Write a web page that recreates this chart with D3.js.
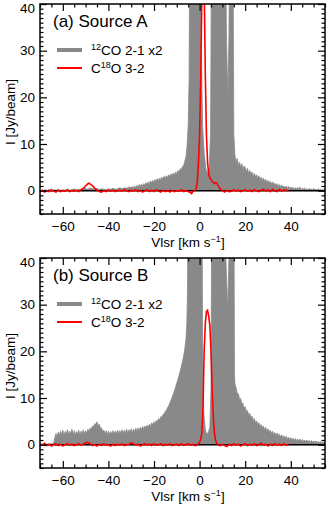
<!DOCTYPE html>
<html>
<head>
<meta charset="utf-8">
<script src="https://cdn.jsdelivr.net/npm/d3@7"></script>
<style>
  body { margin: 0; background: #fff; }
  text { font-family: "Liberation Sans", Arial, Helvetica, sans-serif; fill: #000; }
</style>
</head>
<body>
<div id="chart"></div>
<script>
// [velocity km/s, intensity Jy/beam]
const coA = [[-70,0.1],[-69,-0.2],[-68,0.2],[-67,0],[-66,0.3],[-65,-0.1],[-64,0.2],[-63,0.1],[-62,0.3],[-61,0],[-60,0.2],[-59,0.1],[-58,0.3],[-57,0.1],[-56,0.2],[-55,0.4],[-54,0.1],[-53,0.3],[-52,0.2],[-51,0.4],[-50,0.5],[-49,0.3],[-48,0.6],[-47,0.4],[-46,0.3],[-45,0.5],[-44,0.2],[-43,0.4],[-42,0.3],[-41,0.2],[-40,0.4],[-39,0.3],[-38,0.5],[-37,0.3],[-36,0.4],[-35,0.6],[-34,0.4],[-33,0.6],[-32,0.5],[-31,0.8],
  [-30,0.6],[-29.5,0.9],[-29,0.5],[-28.5,1.0],[-28,0.7],[-27.5,1.1],[-27,0.8],[-26.5,1.3],[-26,0.9],[-25.5,1.4],[-25,1.0],[-24.5,1.5],[-24,1.2],[-23.5,1.7],[-23,1.3],[-22.5,1.9],[-22,1.5],[-21.5,2.1],[-21,1.7],[-20.5,2.2],[-20,1.8],[-19.5,2.4],[-19,2.0],[-18.5,2.6],[-18,2.1],[-17.5,2.7],[-17,2.3],[-16.5,2.9],[-16,2.5],[-15.5,3.1],[-15,2.7],[-14.5,3.2],[-14,2.8],[-13.5,3.4],[-13,3.0],[-12.5,3.6],[-12,3.2],[-11.5,3.8],[-11,3.4],[-10.5,4.0],[-10,3.7],[-9.5,4.3],[-9,4.0],[-8.5,4.7],[-8,4.5],[-7.5,5.2],[-7,5.4],[-6.5,6.3],[-6,7.2],[-5.5,9.5],[-5,14],[-4.6,24],[-4.3,60],
  [0.3,60],[0.8,30],[1.3,14],[2,8],[2.8,4.6],[3.5,3.6],[4.2,5],[4.8,12],[5.3,60],[11.2,60],[11.8,32],[12.4,20],[12.9,34],[13.2,60],[14.6,60],[15,12],
  [15.5,7.6],[16,6.2],[16.5,6.9],[17,5.4],[17.5,6.1],[18,5.0],[18.5,5.8],[19,4.6],[19.5,5.3],[20,4.9],[20.5,4.1],[21,4.8],[21.5,3.7],[22,4.3],[22.5,3.6],[23,4.0],[23.5,3.1],[24,3.7],[24.5,3.0],[25,3.4],[25.5,2.7],[26,3.2],[26.5,2.5],[27,2.9],[27.5,2.2],[28,2.7],[28.5,2.0],[29,2.4],[29.5,1.8],[30,2.2],[30.5,1.6],[31,2.0],[31.5,1.4],[32,1.9],[32.5,1.3],[33,1.6],[33.5,1.1],[34,1.5],[34.5,0.9],[35,1.3],[35.5,0.8],[36,1.2],[36.5,0.7],[37,1.0],[37.5,0.6],[38,1.0],[38.5,0.5],[39,0.9],[39.5,0.4],[40,0.8],[40.5,0.5],[41,0.7],[41.5,0.3],[42,0.6],[42.5,0.4],[43,0.7],[43.5,0.3],[44,0.8],[44.5,0.2],[45,0.5],[45.5,0.3],[46,0.6],[46.5,0.2],[47,0.4],[47.5,0.1],[48,0.5],[48.5,0.2],[49,0.4],[49.5,0.1],[50,0.5],[50.5,0.2],[51,0.3],[51.5,0.1],[52,0.4],[52.5,0.2],[53,0.3],[53.5,0.1],[54,0.3],[54.5,0.1],[55,0.2]];

const c18oA = [[-70,-0.2],[-69,0.1],[-68,-0.3],[-67,0],[-66,-0.2],[-65,0.2],[-64,-0.1],[-63,-0.3],[-62,0.1],[-61,-0.2],[-60,0],[-59,-0.1],[-58,0.2],[-57,-0.2],[-56,0],[-55,-0.1],[-54,0.1],[-53,-0.2],[-52,0.2],[-51,0.5],[-50,1.0],[-49,1.5],[-48.5,1.6],[-48,1.4],[-47,1.1],[-46,0.5],[-45,0.1],[-44,-0.2],[-43,-0.3],[-42,0],[-41,-0.2],[-40,0.1],[-39,-0.1],[-38,0.1],[-37,-0.2],[-36,0],[-35,0.1],[-34,-0.1],[-33,0.2],[-32,0],[-31,-0.2],[-30,0.1],[-29,-0.1],[-28,0.2],[-27,-0.2],[-26,0.1],[-25,-0.3],[-24,0],[-23,0.2],[-22,-0.2],[-21,0.1],[-20,-0.2],[-19,0.2],[-18,-0.1],[-17,-0.3],[-16,0.1],[-15,-0.2],[-14,0],[-13,-0.3],[-12,0.1],[-11,-0.2],[-10,0],[-9,-0.1],[-8,0.2],[-7,-0.2],[-6,0],[-5,-0.2],[-4,-0.4],[-3.5,-0.6],[-3,-0.2],[-2,0],[-1.5,0.5],[-1,2],[-0.5,6],[0,12],[0.5,24],[1,42],[1.5,55],[2,45],[2.5,25],[3,12],[3.5,6],[4,3.5],[4.5,2.8],[5,2.3],[5.5,2],[6,1.8],[6.5,1.5],[7,1.7],[7.5,1.6],[8,1.2],[8.5,0.8],[9,0.4],[10,0],[11,-0.3],[12,0.1],[13,-0.2],[14,-0.1],[15,0.2],[16,-0.1],[17,0.1],[18,-0.2],[19,0],[20,0.2],[21,-0.1],[22,0.1],[23,-0.2],[24,0.2],[25,0],[26,-0.2],[27,0.1],[28,0.3],[29,-0.1],[30,0.2],[31,-0.2],[32,0.3],[33,0],[34,-0.2],[35,0.3],[36,-0.1],[37,0.2],[38,0.1],[39,-0.1]];

const coB = [[-70,0],[-67,0.1],[-65,0.2],[-64,0.3],
  [-63.5,1.5],[-63,2.4],[-62.5,1.6],[-62,2.7],[-61.5,1.9],[-61,2.9],[-60.5,2.2],[-60,3.1],[-59.5,2.0],[-59,2.8],[-58.5,2.3],[-58,3.2],[-57.5,2.1],[-57,2.9],[-56.5,2.4],[-56,3.3],[-55.5,2.2],[-55,3.0],[-54.5,2.1],[-54,2.8],[-53.5,2.3],[-53,3.1],[-52.5,2.0],[-52,2.9],[-51.5,2.4],[-51,3.2],[-50.5,2.3],[-50,3.0],[-49.5,2.5],[-49,3.3],[-48.5,2.8],[-48,3.6],[-47.5,3.2],[-47,4.0],[-46.5,3.8],[-46,4.5],[-45.5,4.3],[-45,4.9],[-44.5,4.1],[-44,4.4],[-43.5,3.5],[-43,3.6],[-42.5,2.8],[-42,3.1],[-41.5,2.4],[-41,3.0],[-40.5,2.2],[-40,2.9],[-39.5,2.1],[-39,2.8],[-38.5,2.3],[-38,3.0],[-37.5,2.2],[-37,2.9],[-36.5,2.4],[-36,3.1],[-35.5,2.3],[-35,3.0],[-34.5,2.5],[-34,3.2],[-33.5,2.4],[-33,3.1],[-32.5,2.6],[-32,3.3],[-31.5,2.5],[-31,3.2],[-30.5,2.7],[-30,3.4],[-29.5,2.6],[-29,3.3],[-28.5,2.8],[-28,3.5],[-27.5,2.9],[-27,3.6],[-26.5,3.0],[-26,3.7],[-25.5,3.2],[-25,3.9],[-24.5,3.3],[-24,4.0],[-23.5,3.5],[-23,4.2],[-22.5,3.7],[-22,4.4],[-21.5,3.9],[-21,4.7],[-20.5,4.2],[-20,4.9],[-19.5,4.5],[-19,5.2],[-18.5,4.9],[-18,5.6],[-17.5,5.3],[-17,6.0],[-16.5,5.9],[-16,6.5],[-15.5,6.6],[-15,7.2],[-14.5,7.4],[-14,8.0],[-13.5,8.4],[-13,9.0],[-12.5,9.6],[-12,10.2],[-11.5,10.9],[-11,11.6],[-10.5,12.4],[-10,13.2],[-9.5,14.0],[-9,14.9],[-8.5,15.8],[-8,16.8],[-7.5,17.8],[-7,19.0],[-6.5,20.5],[-6,22.5],[-5.6,26],[-5.3,33],[-5.1,60],
  [1,60],[1.3,22],[1.8,7],[2.5,3.2],[3,2.4],[3.8,2.5],[4.5,3.8],[5,12],[5.4,60],[10.8,60],[11.5,40],[12.3,29],[13.1,44],[13.4,60],[15,60],
  [15.3,15],[15.5,13],[16,12.2],[16.5,11.0],[17,10.9],[17.5,9.8],[18,9.9],[18.5,8.8],[19,8.9],[19.5,7.9],[20,8.1],[20.5,7.1],[21,7.3],[21.5,6.4],[22,6.7],[22.5,5.8],[23,6.1],[23.5,5.2],[24,5.6],[24.5,4.7],[25,5.1],[25.5,4.3],[26,4.7],[26.5,3.9],[27,4.3],[27.5,3.6],[28,4.0],[28.5,3.2],[29,3.7],[29.5,2.9],[30,3.4],[30.5,2.7],[31,3.1],[31.5,2.4],[32,2.9],[32.5,2.2],[33,2.6],[33.5,2.0],[34,2.5],[34.5,1.8],[35,2.3],[35.5,1.6],[36,2.1],[36.5,1.5],[37,1.9],[37.5,1.3],[38,1.8],[38.5,1.2],[39,1.6],[39.5,1.1],[40,1.5],[40.5,1.0],[41,1.4],[41.5,0.9],[42,1.3],[42.5,0.8],[43,1.2],[43.5,0.8],[44,1.2],[44.5,0.7],[45,1.1],[45.5,0.7],[46,1.0],[46.5,0.6],[47,1.0],[47.5,0.6],[48,0.9],[48.5,0.5],[49,0.9],[49.5,0.5],[50,0.8],[50.5,0.5],[51,0.8],[51.5,0.4],[52,0.7],[52.5,0.4],[53,0.7],[53.5,0.3],[54,0.6],[54.5,0.3],[55,0.5]];

const c18oB = [[-70,0.2],[-69,-0.1],[-68,0.3],[-67,-0.2],[-66,0.1],[-65,-0.3],[-64,0],[-63,0.2],[-62,-0.2],[-61,0.1],[-60,-0.3],[-59,0],[-58,0.2],[-57,-0.1],[-56,0.1],[-55,-0.2],[-54,0],[-53,0.2],[-52,-0.1],[-51,0.1],[-50,0.4],[-49,0.5],[-48,0.2],[-47,-0.2],[-46,0],[-45,-0.3],[-44,0.1],[-43,-0.2],[-42,0.2],[-41,-0.1],[-40,0],[-39,-0.3],[-38,0.1],[-37,-0.2],[-36,0.1],[-35,-0.1],[-34,0.2],[-33,-0.2],[-32,0],[-31,0.1],[-30,0.4],[-29,0.2],[-28,-0.1],[-27,0.1],[-26,-0.3],[-25,0],[-24,0.2],[-23,-0.1],[-22,0.1],[-21,-0.2],[-20,0.2],[-19,-0.1],[-18,0],[-17,0.2],[-16,-0.2],[-15,0.1],[-14,-0.1],[-13,0.2],[-12,-0.2],[-11,0],[-10,0.1],[-9,-0.2],[-8,0.2],[-7,-0.1],[-6,0],[-5,0.2],[-4,-0.1],[-3,0.1],[-2,-0.2],[-1,0],[-0.5,0.2],[0,0.6],[0.5,1.2],[1,2.5],[1.5,8],[2,20],[2.5,26],[3,28.5],[3.5,28.8],[4,27.5],[4.5,25.5],[5,20],[5.5,12],[6,6],[6.5,2.5],[7,1],[7.5,0.3],[8,0],[9,-0.2],[10,0.1],[11,-0.2],[12,-0.4],[13,0.1],[14,-0.2],[15,0.2],[16,-0.1],[17,0.1],[18,-0.3],[19,0],[20,0.2],[21,-0.2],[22,0.1],[23,-0.1],[24,0.2],[25,-0.2],[26,0],[27,0.3],[28,-0.1],[29,0.1],[30,-0.3],[31,0.1],[32,-0.2],[33,0.2],[34,-0.1],[35,0.1],[36,-0.2],[37,0.2],[38,-0.1],[39,0]];

const xMajor = [-60, -40, -20, 0, 20, 40];
const yMajor = [0, 10, 20, 30, 40];
const panels = [
  { tag: '(a) Source A', co: coA, c18o: c18oA },
  { tag: '(b) Source B', co: coB, c18o: c18oB }
];

const W = 327, H = 505;
const plotLeft = 40, plotRight = 325, plotTop = 4, plotH = 210, panelStep = 254;

const svg = d3.select('#chart').append('svg')
  .attr('width', W).attr('height', H);

const x = d3.scaleLinear().domain([-70, 55]).range([plotLeft, plotRight]);
const y = d3.scaleLinear().domain([-5, 40]).range([plotTop + plotH, plotTop]);

const xMinor = d3.range(-70, 56, 5).filter(v => !xMajor.includes(v));
const yMinor = d3.range(-5, 41, 1).filter(v => !yMajor.includes(v));

panels.forEach((p, i) => {
  const g = svg.append('g').attr('transform', `translate(0,${i * panelStep})`);
  const clipId = 'clip' + i;
  g.append('clipPath').attr('id', clipId).append('rect')
    .attr('x', plotLeft).attr('y', plotTop).attr('width', plotRight - plotLeft).attr('height', plotH);

  const plot = g.append('g').attr('clip-path', `url(#${clipId})`);

  // gray fill: same-colour stroke closes any hairline seams in the fill
  const area = d3.area().x(d => x(d[0])).y0(y(0)).y1(d => y(d[1]));
  plot.append('path').datum(p.co)
    .attr('d', area).attr('fill', '#898989')
    .attr('stroke', '#898989').attr('stroke-width', 0.8).attr('stroke-linejoin', 'round');

  plot.append('line')
    .attr('x1', plotLeft).attr('x2', plotRight).attr('y1', y(0)).attr('y2', y(0))
    .attr('stroke', '#000').attr('stroke-width', 1.5);

  const line = d3.line().x(d => x(d[0])).y(d => y(d[1]));
  plot.append('path').datum(p.c18o)
    .attr('d', line).attr('fill', 'none').attr('stroke', '#ff0000').attr('stroke-width', 1.6);

  // axes, ticks inside on all four sides
  const plotBottom = plotTop + plotH;
  const addAxis = (axis, tf, labels) => {
    const a = g.append('g').attr('transform', tf).call(axis);
    a.select('.domain').remove();
    a.selectAll('line').attr('stroke', '#000').attr('stroke-width', 1.2);
    if (!labels) a.selectAll('text').remove();
    return a;
  };
  const xb = addAxis(d3.axisBottom(x).tickValues(xMajor).tickSize(-7).tickPadding(7), `translate(0,${plotBottom})`, true);
  xb.selectAll('text').attr('font-size', 13.5);
  addAxis(d3.axisBottom(x).tickValues(xMinor).tickSize(-3.5), `translate(0,${plotBottom})`, false);
  addAxis(d3.axisTop(x).tickValues(xMajor).tickSize(-7), `translate(0,${plotTop})`, false);
  addAxis(d3.axisTop(x).tickValues(xMinor).tickSize(-3.5), `translate(0,${plotTop})`, false);

  const yl = addAxis(d3.axisLeft(y).tickValues(yMajor).tickSize(-7).tickPadding(5), `translate(${plotLeft},0)`, true);
  yl.selectAll('text').attr('font-size', 13.5);
  yl.selectAll('.tick').filter(d => d === 40).select('text').attr('dy', '0.62em');
  addAxis(d3.axisLeft(y).tickValues(yMinor).tickSize(-3.5), `translate(${plotLeft},0)`, false);
  addAxis(d3.axisRight(y).tickValues(yMajor).tickSize(-7), `translate(${plotRight},0)`, false);
  addAxis(d3.axisRight(y).tickValues(yMinor).tickSize(-3.5), `translate(${plotRight},0)`, false);

  g.append('rect')
    .attr('x', plotLeft).attr('y', plotTop).attr('width', plotRight - plotLeft).attr('height', plotH)
    .attr('fill', 'none').attr('stroke', '#000').attr('stroke-width', 1.5);

  // titles
  const xt = g.append('text').attr('x', 188).attr('y', 247)
    .attr('text-anchor', 'middle').attr('font-size', 13.5);
  xt.append('tspan').text('Vlsr [km s');
  xt.append('tspan').attr('dy', -5).attr('font-size', 9).text('\u22121');
  xt.append('tspan').attr('dy', 5).text(']');

  g.append('text').attr('transform', `translate(15,${plotTop + plotH / 2 + 3}) rotate(-90)`)
    .attr('text-anchor', 'middle').attr('font-size', 13.5).text('I [Jy/beam]');

  g.append('text').attr('x', 53).attr('y', 27).attr('font-size', 17).text(p.tag);

  // legend
  g.append('line').attr('x1', 57).attr('x2', 82).attr('y1', 50).attr('y2', 50)
    .attr('stroke', '#898989').attr('stroke-width', 4);
  const l1 = g.append('text').attr('x', 91).attr('y', 55).attr('font-size', 13.5);
  l1.append('tspan').attr('dy', -5).attr('font-size', 9).text('12');
  l1.append('tspan').attr('dy', 5).text('CO 2-1 x2');

  g.append('line').attr('x1', 57).attr('x2', 82).attr('y1', 68).attr('y2', 68)
    .attr('stroke', '#ff0000').attr('stroke-width', 2);
  const l2 = g.append('text').attr('x', 91).attr('y', 73).attr('font-size', 13.5);
  l2.append('tspan').text('C');
  l2.append('tspan').attr('dy', -5).attr('font-size', 9).text('18');
  l2.append('tspan').attr('dy', 5).text('O 3-2');
});
</script>
</body>
</html>
